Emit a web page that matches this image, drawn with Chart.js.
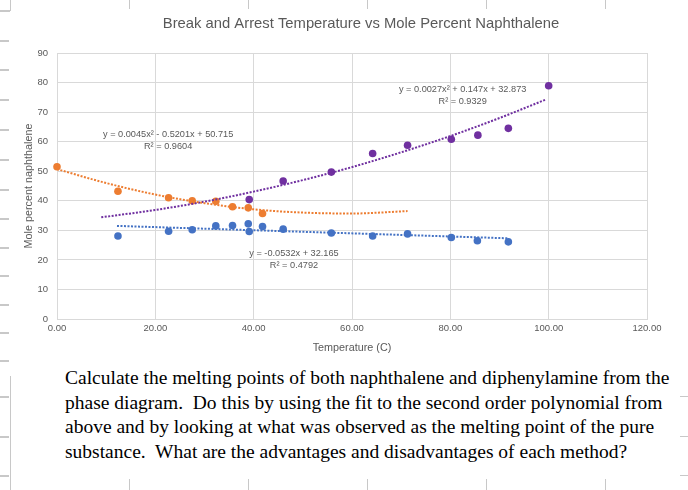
<!DOCTYPE html>
<html><head><meta charset="utf-8">
<script src="https://cdn.jsdelivr.net/npm/chart.js@4.4.1/dist/chart.umd.min.js"></script>
<style>
html,body{margin:0;padding:0;background:#fff;}
body{width:688px;height:490px;position:relative;overflow:hidden;}
#c{position:absolute;left:0;top:0;}
.d{position:absolute;background:#c8c8c8;}
#q{position:absolute;left:65px;top:366px;font-family:"Liberation Serif","Times New Roman",serif;font-size:19.5px;line-height:24.5px;color:#000;white-space:nowrap;}
</style></head><body>
<canvas id="c" width="688" height="365"></canvas>
<div id="q">Calculate the melting points of both naphthalene and diphenylamine from the<br>phase diagram.&nbsp; Do this by using the fit to the second order polynomial from<br>above and by looking at what was observed as the melting point of the pure<br>substance.&nbsp; What are the advantages and disadvantages of each method?</div>
<script>
// ---- data ----
const orangeT = [0, 12.4, 22.7, 27.5, 32.3, 35.7, 38.9, 41.8];
const orangeM = [51.5, 43.2, 41.0, 40.0, 39.8, 38.0, 37.6, 35.7];
const blueT = [12.4, 22.7, 27.5, 32.3, 35.7, 38.9, 39.1, 41.8, 46.0, 55.8, 64.2, 71.3, 80.2, 85.5, 91.8];
const blueM = [28.1, 29.7, 30.2, 31.5, 31.6, 32.2, 29.6, 31.3, 30.4, 29.1, 28.1, 28.8, 27.6, 26.5, 26.1];
const purpleT = [39.1, 46.0, 55.8, 64.2, 71.3, 80.2, 85.6, 91.8, 100.0];
const purpleM = [40.4, 46.7, 49.7, 56.0, 58.8, 60.8, 62.2, 64.5, 78.9];
// trendlines (as drawn in the picture)
const trendOrangeT = [0, 10, 20, 30, 40, 50, 60, 71.3];
const trendOrangeM = [50.7, 46.0, 42.1, 39.2, 37.1, 36.0, 35.7, 36.5];
const trendBlueT = [12.2, 91.8];
const trendBlueM = [31.5, 27.3];
const trendPurpleT = [9, 20, 30, 40, 50, 60, 70, 80, 90, 99.5];
const trendPurpleM = [34.4, 36.9, 39.7, 43.1, 47.0, 51.4, 56.4, 61.9, 68.0, 74.3];
// trendline labels
const eqTexts = ['y = 0.0045x² - 0.5201x + 50.715', 'y = 0.0027x² + 0.147x + 32.873', 'y = -0.0532x + 32.165'];
const r2Texts = ['R² = 0.9604', 'R² = 0.9329', 'R² = 0.4792'];
const eqT = [22.6, 82.5, 48.2];
const eqM = [62.6, 77.5, 22.3];
// axes
const xTickValues = [0, 20, 40, 60, 80, 100, 120];
const yTickValues = [0, 10, 20, 30, 40, 50, 60, 70, 80, 90];
const chartTitle = 'Break and Arrest Temperature vs Mole Percent Naphthalene';
const xTitle = 'Temperature (C)';
const yTitle = 'Mole percent naphthalene';

const ORANGE = '#ED7D31', BLUE = '#4472C4', PURPLE = '#7030A0';
const GRAY = '#595959';
const FONT = '"Liberation Sans", Arial, sans-serif';
const pts = (a, b) => a.map((v, i) => ({x: v, y: b[i]}));

function trend(t, m, color) {
  return {data: pts(t, m), showLine: true, pointRadius: 0, borderColor: color, borderWidth: 2,
          borderDash: [2, 1.5], tension: 0.4, cubicInterpolationMode: 'monotone', fill: false, clip: false};
}
function dots(t, m, color) {
  return {data: pts(t, m), showLine: false, pointRadius: 3.8, pointBackgroundColor: color,
          pointBorderWidth: 0, backgroundColor: color, borderColor: color, clip: false};
}

const labelsPlugin = {
  id: 'labels',
  beforeDraw(chart) {
    const ctx = chart.ctx;
    ctx.save(); ctx.fillStyle = '#fff'; ctx.fillRect(0, 0, chart.width, chart.height); ctx.restore();
  },
  afterDraw(chart) {
    const ctx = chart.ctx, xs = chart.scales.x, ys = chart.scales.y;
    ctx.save();
    ctx.fillStyle = GRAY;
    ctx.textAlign = 'center'; ctx.textBaseline = 'middle';
    ctx.font = '14.8px ' + FONT;
    ctx.fillText(chartTitle, 361, 24);
    ctx.font = '9.2px ' + FONT;
    for (let i = 0; i < eqTexts.length; i++) {
      const px = xs.getPixelForValue(eqT[i]), py = ys.getPixelForValue(eqM[i]);
      ctx.fillText(eqTexts[i], px, py);
      ctx.fillText(r2Texts[i], px, py + 12);
    }
    ctx.restore();
  }
};

new Chart(document.getElementById('c'), {
  type: 'scatter',
  data: {datasets: [
    trend(trendOrangeT, trendOrangeM, ORANGE),
    trend(trendBlueT, trendBlueM, BLUE),
    trend(trendPurpleT, trendPurpleM, PURPLE),
    dots(orangeT, orangeM, ORANGE),
    dots(blueT, blueM, BLUE),
    dots(purpleT, purpleM, PURPLE)
  ]},
  options: {
    responsive: false, animation: false, devicePixelRatio: 1,
    layout: {padding: {top: 53, right: 41, bottom: 6, left: 0}},
    plugins: {legend: {display: false}, tooltip: {enabled: false}, title: {display: false}},
    scales: {
      x: {type: 'linear', min: 0, max: 120,
          afterBuildTicks: s => { s.ticks = xTickValues.map(v => ({value: v})); },
          ticks: {callback: v => Number(v).toFixed(2), color: GRAY, font: {size: 9.5, family: FONT}, padding: 4, maxRotation: 0},
          grid: {color: '#d9d9d9', drawTicks: false, lineWidth: 1},
          border: {color: '#d9d9d9'},
          title: {display: true, text: xTitle, color: GRAY, font: {size: 10.8, family: FONT}, padding: {top: 0, bottom: 4}},
          afterFit: s => { s.height = 40; }},
      y: {type: 'linear', min: 0, max: 90,
          afterBuildTicks: s => { s.ticks = yTickValues.map(v => ({value: v})); },
          ticks: {color: GRAY, font: {size: 9.5, family: FONT}, padding: 9},
          grid: {color: '#d9d9d9', drawTicks: false, lineWidth: 1},
          border: {color: '#d9d9d9'},
          title: {display: true, text: yTitle, color: GRAY, font: {size: 10.8, family: FONT}, padding: {top: 23, bottom: 0}},
          afterFit: s => { s.width = 57; }}
    }
  },
  plugins: [labelsPlugin]
});

// spreadsheet cell-border fragments around the picture
(function () {
  const cols = [129, 248, 367, 486, 605];
  const add = (l, t, w, h) => { const d = document.createElement('div'); d.className = 'd';
    d.style.cssText = `left:${l}px;top:${t}px;width:${w}px;height:${h}px`; document.body.appendChild(d); };
  cols.forEach(x => { add(x, 0, 1, 9); add(x, 479, 1, 11); });
  add(0, 10, 10, 2); add(10, 0, 1, 11);
  [40, 69, 99, 129, 159, 189, 218, 247, 275, 304, 332, 360, 396, 436, 475].forEach(y => add(0, y, 9, 2));
  [396, 436, 475].forEach(y => add(680, y, 8, 1));
  add(10, 376, 1, 114);
})();
</script>
</body></html>
